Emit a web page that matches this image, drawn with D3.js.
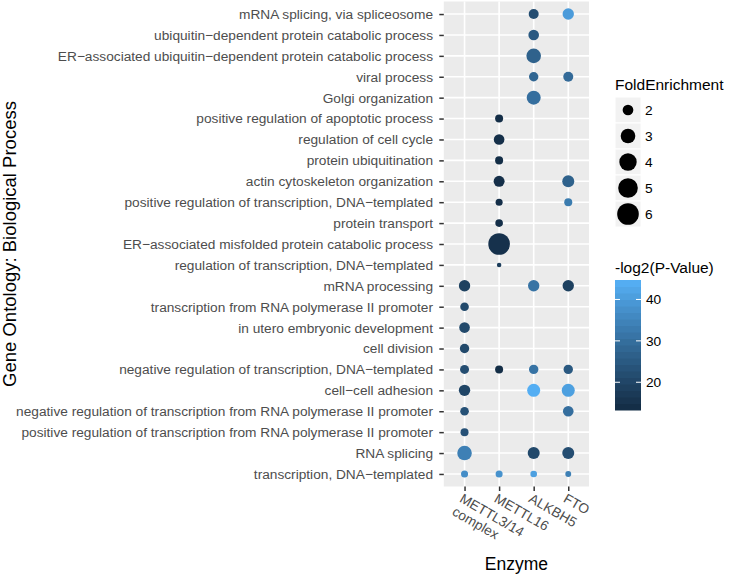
<!DOCTYPE html>
<html><head><meta charset="utf-8">
<script src="https://cdn.jsdelivr.net/npm/d3@7"></script>
<style>body{margin:0;background:#fff}svg{display:block}text{font-family:"Liberation Sans",Arial,Helvetica,sans-serif}</style>
</head><body><script>
const processes = [
  "mRNA splicing, via spliceosome",
  "ubiquitin−dependent protein catabolic process",
  "ER−associated ubiquitin−dependent protein catabolic process",
  "viral process",
  "Golgi organization",
  "positive regulation of apoptotic process",
  "regulation of cell cycle",
  "protein ubiquitination",
  "actin cytoskeleton organization",
  "positive regulation of transcription, DNA−templated",
  "protein transport",
  "ER−associated misfolded protein catabolic process",
  "regulation of transcription, DNA−templated",
  "mRNA processing",
  "transcription from RNA polymerase II promoter",
  "in utero embryonic development",
  "cell division",
  "negative regulation of transcription, DNA−templated",
  "cell−cell adhesion",
  "negative regulation of transcription from RNA polymerase II promoter",
  "positive regulation of transcription from RNA polymerase II promoter",
  "RNA splicing",
  "transcription, DNA−templated"
];
const enzymes = ["METTL3/14\ncomplex", "METTL16", "ALKBH5", "FTO"];
const N = null;
// Fold enrichment per process (rows above), one array per enzyme
const foldMETTL314 = [N,N,N,N,N,N,N,N,N,N,N,N,N,2.14,1.66,1.98,1.77,1.71,2.14,1.66,1.59,3.0,1.5];
const foldMETTL16  = [N,N,N,N,N,1.59,1.98,1.59,2.05,1.5,1.55,6.0,1.4,N,N,N,N,1.59,N,N,N,N,1.5];
const foldALKBH5   = [1.87,1.98,3.0,1.77,2.81,N,N,N,N,N,N,N,N,2.14,N,N,N,1.77,2.53,N,N,2.28,1.47];
const foldFTO      = [2.14,N,N,1.87,N,N,N,N,2.28,1.59,N,N,N,2.14,N,N,N,1.77,2.53,1.98,N,2.28,1.43];
// -log2(P-Value) per process
const logpMETTL314 = [N,N,N,N,N,N,N,N,N,N,N,N,N,19,21,21,21,22,20,23,23,34,37];
const logpMETTL16  = [N,N,N,N,N,14,14.5,14,14.5,14.5,14.5,15,18,N,N,N,N,14,N,N,N,N,38];
const logpALKBH5   = [22,25,27,28,30,N,N,N,N,N,N,N,N,31,N,N,N,31,44,N,N,21,41];
const logpFTO      = [40,N,N,29,N,N,N,N,27,33,N,N,N,19,N,N,N,25,41,30,N,22,34];
const sizeBreaks = [2,3,4,5,6];
const colorBreaks = [20,30,40];
const colorDomain = [13.3, 44.7];
const sizeDomain = [1.4, 6.0];

const foldBy = [foldMETTL314, foldMETTL16, foldALKBH5, foldFTO];
const logpBy = [logpMETTL314, logpMETTL16, logpALKBH5, logpFTO];
const points = [];
enzymes.forEach((e, j) => processes.forEach((p, i) => {
  if (foldBy[j][i] != null) points.push({process: p, enzyme: e, fold: foldBy[j][i], logp: logpBy[j][i]});
}));

const W = 732, H = 574;
const panel = {l: 443.8, r: 589, t: 1.5, b: 486.5};
const svg = d3.select("body").append("svg").attr("width", W).attr("height", H);
svg.append("rect").attr("width", W).attr("height", H).attr("fill", "#fff");

const x = d3.scalePoint().domain(enzymes).range([panel.l, panel.r]).padding(0.6);
const y = d3.scalePoint().domain(processes).range([panel.t, panel.b]).padding(0.6);
const tScale = d3.scaleLinear().domain(sizeDomain).range([0, 1]).clamp(true);
const rPow = d3.scalePow().exponent(0.5).domain([0, 1]).range([2.27, 10.81]);
const r = v => rPow(tScale(v));
const color = d3.scaleLinear().domain(colorDomain).range(["#132B43", "#56B1F7"]).interpolate(d3.interpolateLab).clamp(true);

// panel
svg.append("rect").attr("x", panel.l).attr("y", panel.t).attr("width", panel.r - panel.l)
  .attr("height", panel.b - panel.t).attr("fill", "#EBEBEB");
const g = svg.append("g");
g.selectAll(".gx").data(enzymes).join("line").attr("x1", d => x(d)).attr("x2", d => x(d))
  .attr("y1", panel.t).attr("y2", panel.b).attr("stroke", "#fff").attr("stroke-width", 1.6);
g.selectAll(".gy").data(processes).join("line").attr("y1", d => y(d)).attr("y2", d => y(d))
  .attr("x1", panel.l).attr("x2", panel.r).attr("stroke", "#fff").attr("stroke-width", 1.6);

// points
g.selectAll("circle.pt").data(points).join("circle").attr("class", "pt")
  .attr("cx", d => x(d.enzyme)).attr("cy", d => y(d.process))
  .attr("r", d => r(d.fold)).attr("fill", d => color(d.logp));

// y axis
const yAxis = d3.axisLeft(y).tickSize(4.5).tickPadding(6.3);
const ya = svg.append("g").attr("transform", `translate(${panel.l},0)`).call(yAxis);
ya.select(".domain").remove();
ya.selectAll(".tick line").attr("stroke", "#333").attr("stroke-width", 1.5);
ya.selectAll(".tick text").attr("fill", "#4D4D4D").attr("font-size", 13.7)
  .attr("font-family", '"Liberation Sans",Arial,sans-serif');

// x axis
const xAxis = d3.axisBottom(x).tickSize(4.5).tickFormat("");
const xa = svg.append("g").attr("transform", `translate(0,${panel.b})`).call(xAxis);
xa.select(".domain").remove();
xa.selectAll(".tick line").attr("stroke", "#333").attr("stroke-width", 1.5);
enzymes.forEach(e => {
  const t = svg.append("text").attr("transform", `translate(${x(e) - 0.5},${panel.b + 5.5})rotate(30)`)
    .attr("fill", "#4D4D4D").attr("font-size", 13.7);
  e.split("\n").forEach((line, k) => {
    t.append("tspan").attr("x", 0).attr("dy", k === 0 ? "0.78em" : "1.1em").text(line);
  });
});

// axis titles
svg.append("text").attr("x", (panel.l + panel.r) / 2).attr("y", 570).attr("text-anchor", "middle")
  .attr("font-size", 17.5).attr("fill", "#000").text("Enzyme");
svg.append("text").attr("transform", `translate(16,${(panel.t + panel.b) / 2})rotate(-90)`)
  .attr("text-anchor", "middle").attr("font-size", 18.5).attr("fill", "#000")
  .text("Gene Ontology: Biological Process");

// size legend
const lg = svg.append("g");
lg.append("text").attr("x", 615).attr("y", 90).attr("font-size", 15.5).text("FoldEnrichment");
sizeBreaks.forEach((b, k) => {
  const cy = 110 + k * 26;
  lg.append("rect").attr("x", 615).attr("y", cy - 13).attr("width", 26).attr("height", 26)
    .attr("fill", "#F2F2F2").attr("stroke", "#fff").attr("stroke-width", 1);
  lg.append("circle").attr("cx", 628).attr("cy", cy).attr("r", r(b)).attr("fill", "#000");
  lg.append("text").attr("x", 645).attr("y", cy).attr("dy", "0.36em").attr("font-size", 13.7)
    .attr("fill", "#000").text(b);
});

// color legend
const cl = svg.append("g");
cl.append("text").attr("x", 615).attr("y", 273).attr("font-size", 15.5).text("-log2(P-Value)");
const barTop = 280, barBot = 410, barX = 615, barW = 26;
const cy = d3.scaleLinear().domain(colorDomain).range([barBot, barTop]);
const nbin = 20;
d3.range(nbin).forEach(i => {
  const v0 = colorDomain[0] + (colorDomain[1] - colorDomain[0]) * i / nbin;
  const v1 = colorDomain[0] + (colorDomain[1] - colorDomain[0]) * (i + 1) / nbin;
  cl.append("rect").attr("x", barX).attr("width", barW).attr("y", cy(v1)).attr("height", cy(v0) - cy(v1) + 0.5)
    .attr("fill", color((v0 + v1) / 2));
});
colorBreaks.forEach(b => {
  cl.append("line").attr("x1", barX).attr("x2", barX + 5).attr("y1", cy(b)).attr("y2", cy(b))
    .attr("stroke", "#fff").attr("stroke-width", 1);
  cl.append("line").attr("x1", barX + barW - 5).attr("x2", barX + barW).attr("y1", cy(b)).attr("y2", cy(b))
    .attr("stroke", "#fff").attr("stroke-width", 1);
  cl.append("text").attr("x", barX + barW + 5).attr("y", cy(b)).attr("dy", "0.36em").attr("font-size", 13.7)
    .text(b);
});
</script></body></html>
